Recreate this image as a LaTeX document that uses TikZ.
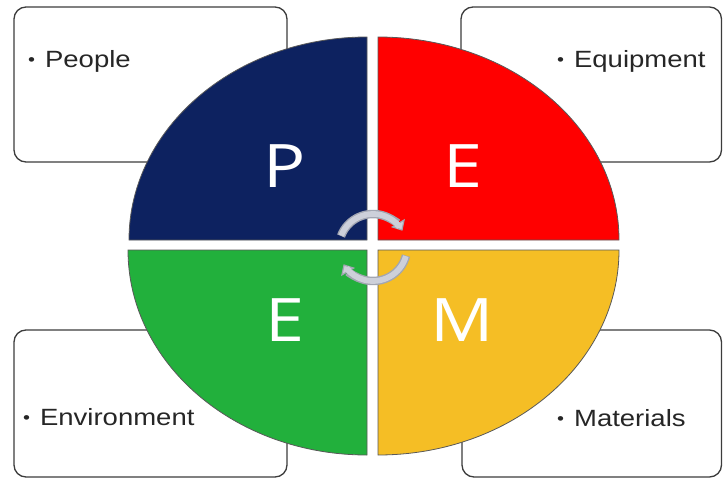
\documentclass[tikz,border=0pt]{standalone}
\usepackage{fontspec}
\setmainfont{Liberation Sans}
\newfontfamily\letterfont{Open Sans}
\usetikzlibrary{arrows.meta}

\definecolor{navyq}{HTML}{0D2260}
\definecolor{redq}{HTML}{FF0000}
\definecolor{greenq}{HTML}{22B03C}
\definecolor{yellowq}{HTML}{F5BE25}
\definecolor{boxline}{HTML}{3C3C3C}
\definecolor{cyclefill}{HTML}{CDD0DA}
\definecolor{cycleedge}{HTML}{A2A6B2}

% horizontally stretched text
\newcommand\stretchx[1]{\scalebox{1.17}[1]{#1}}
% small list bullet followed by its gap
\newcommand\itemdot{{\fontsize{17}{17}\selectfont\raisebox{1.2pt}{•}}\hspace{8.5pt}}

\begin{document}
\begin{tikzpicture}[x=1pt,y=-1pt,
  itembox/.style={draw=boxline, line width=1.3pt, rounded corners=12pt, fill=white},
  quad/.style={draw=black!65, line width=0.8pt},
  letter/.style={text=white, inner sep=0pt, font=\letterfont\fontsize{60}{60}\selectfont},
  item/.style={text=black!85, anchor=base west, inner sep=0pt, font=\fontsize{23.5}{24}\selectfont},
  cycleout/.style={draw=cycleedge, line width=8.5pt,
    -{Triangle[length=9pt,width=16pt,fill=cyclefill,line width=1.2pt]}},
  cyclein/.style={draw=cyclefill, line width=5.7pt}
]
\useasboundingbox (0,0) rectangle (723,479);

% corner boxes
\draw[itembox] (14,7) rectangle (287,162);
\draw[itembox] (461,7) rectangle (721.5,162);
\draw[itembox] (14,330) rectangle (287,477);
\draw[itembox] (462,330) rectangle (721.5,477);

% four quarters of the disc
\fill[navyq]   (367,240) -- ++(-238,0) arc[start angle=180, end angle=270, x radius=238, y radius=203] -- cycle;
\draw[quad]    (367,240) -- ++(-238,0) arc[start angle=180, end angle=270, x radius=238, y radius=203] -- cycle;
\fill[redq]    (378,240) -- ++(0,-203) arc[start angle=270, end angle=360, x radius=241, y radius=203] -- cycle;
\draw[quad]    (378,240) -- ++(0,-203) arc[start angle=270, end angle=360, x radius=241, y radius=203] -- cycle;
\fill[greenq]  (367,250) -- ++(-239,0) arc[start angle=180, end angle=90, x radius=239, y radius=205] -- cycle;
\draw[quad]    (367,250) -- ++(-239,0) arc[start angle=180, end angle=90, x radius=239, y radius=205] -- cycle;
\fill[yellowq] (378,250) -- ++(241,0) arc[start angle=0, end angle=90, x radius=241, y radius=205] -- cycle;
\draw[quad]    (378,250) -- ++(241,0) arc[start angle=0, end angle=90, x radius=241, y radius=205] -- cycle;

% cycle arrows in the middle
\coordinate (hub) at (373,247.5);
\draw[cycleout] (hub) ++(200:34 and 33.5) arc[start angle=200, end angle=330, x radius=34, y radius=33.5];
\draw[cyclein]  (hub) ++(201:34 and 33.5) arc[start angle=201, end angle=322, x radius=34, y radius=33.5];
\draw[cycleout] (hub) ++(14:34 and 33.5) arc[start angle=14, end angle=150, x radius=34, y radius=33.5];
\draw[cyclein]  (hub) ++(15:34 and 33.5) arc[start angle=15, end angle=142, x radius=34, y radius=33.5];

% quarter letters
\node[letter] (lp)  at (285,166) {\stretchx{P}};
\node[letter] (le1) at (463,166) {\stretchx{E}};
\node[letter] (le2) at (285,320) {\stretchx{E}};
\node[letter] (lm)  at (462,320) {\stretchx{M}};

% box texts
\node[item] (people)  at (28,67)   {\stretchx{\itemdot People}};
\node[item] (equip)   at (557,67)  {\stretchx{\itemdot Equipment}};
\node[item] (environ) at (23,425)  {\stretchx{\itemdot Environment}};
\node[item] (mater)   at (557,426) {\stretchx{\itemdot Materials}};
\end{tikzpicture}
\end{document}
